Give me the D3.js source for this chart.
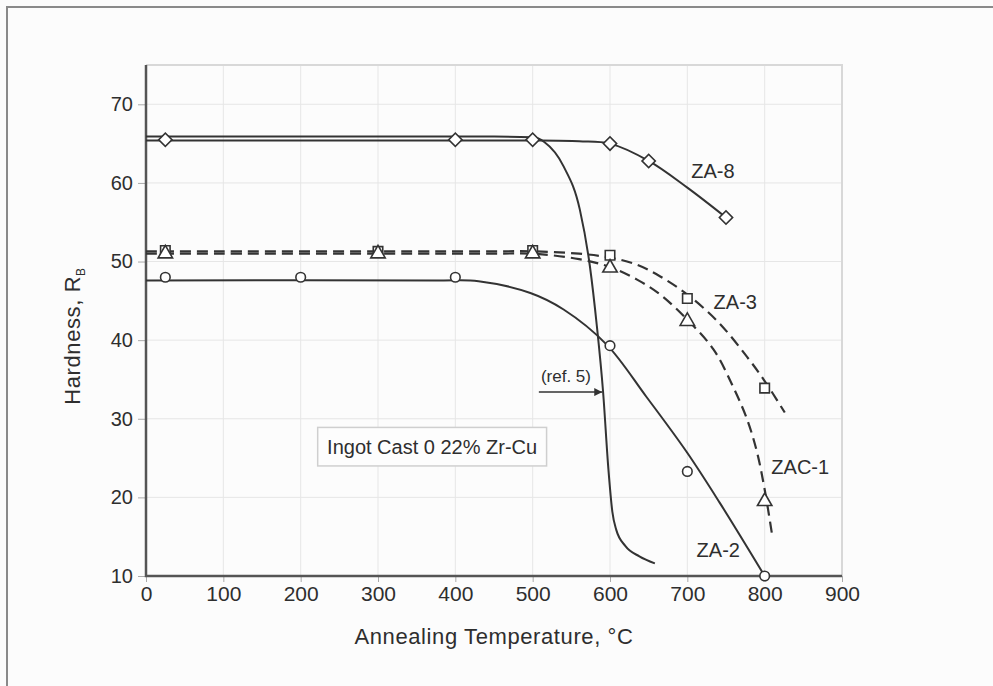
<!DOCTYPE html>
<html>
<head>
<meta charset="utf-8">
<script src="https://cdn.jsdelivr.net/npm/d3@7/dist/d3.min.js"></script>
<style>
  html, body { margin: 0; padding: 0; background: #fcfcfc; }
  svg { display: block; font-family: "Liberation Sans", Arial, sans-serif; }
</style>
</head>
<body>
<svg id="chart" width="993" height="686"></svg>
<script>
// Axis ticks
const tempTicks = [0, 100, 200, 300, 400, 500, 600, 700, 800, 900];
const hardTicks = [10, 20, 30, 40, 50, 60, 70];

// Measured points (temperature °C, hardness R_B)
const za8Points  = [[25, 65.5], [400, 65.5], [500, 65.5], [600, 65.0], [650, 62.8], [750, 55.6]];
const za3Points  = [[25, 51.4], [300, 51.3], [500, 51.4], [600, 50.8], [700, 45.3], [800, 33.9]];
const zac1Points = [[25, 51.0], [300, 51.0], [500, 51.0], [600, 49.2], [700, 42.4], [800, 19.5]];
const za2Points  = [[25, 48.0], [200, 48.0], [400, 48.0], [600, 39.3], [700, 23.3], [800, 10.0]];

// Fitted softening curves
const za8Curve  = [[0, 65.4], [450, 65.4], [500, 65.4], [560, 65.3], [600, 65.0], [650, 62.8], [700, 59.4], [750, 55.6]];
const ref5Curve = [[0, 65.9], [450, 65.9], [500, 65.8], [515, 65.2], [540, 62.1], [561, 56.6], [574, 49.4], [583, 41.8],
                   [591, 33.5], [598, 23.5], [603, 18.2], [608, 15.9], [620, 13.8], [638, 12.5], [658, 11.6]];
const za3Curve  = [[0, 51.3], [450, 51.3], [500, 51.3], [560, 51.0], [600, 50.5], [635, 49.6], [665, 48.1], [700, 45.8],
                   [740, 42.3], [777, 37.9], [800, 34.8], [826, 30.8]];
const zac1Curve = [[0, 51.0], [450, 51.0], [500, 51.0], [560, 50.3], [600, 49.3], [635, 47.7], [665, 45.8], [700, 42.6],
                   [734, 38.8], [759, 34.1], [777, 30.0], [790, 25.8], [800, 21.0], [810, 15.0]];
const za2Curve  = [[0, 47.6], [380, 47.6], [430, 47.5], [497, 46.0], [540, 43.9], [596, 39.4], [647, 32.8], [699, 25.8],
                   [742, 19.3], [800, 10.0]];

// Curve labels (anchor in data units)
const curveLabels = [
  { text: "ZA-8",  t: 733, h: 61.5 },
  { text: "ZA-3",  t: 762, h: 44.9 },
  { text: "ZAC-1", t: 846, h: 23.9 },
  { text: "ZA-2",  t: 740, h: 13.3 }
];
const refNote = { text: "(ref. 5)", t: 543, h: 35.4, arrowFrom: 508, arrowTo: 590, arrowH: 33.4 };
const noteBox = { text: "Ingot Cast 0 22% Zr-Cu", t0: 222, t1: 518, h0: 28.9, h1: 24.0 };

const ink = "#333";
const textInk = "#2e2e2e";
const svg = d3.select("#chart");

const x = d3.scaleLinear().domain([0, 900]).range([146, 842]);
const y = d3.scaleLinear().domain([10, 75]).range([576, 65]);

// Outer frame
svg.append("rect").attr("x", 7).attr("y", 7).attr("width", 1000).attr("height", 700)
  .attr("fill", "#fcfcfc").attr("stroke", "#8a8a8a").attr("stroke-width", 2);

// Grid
const grid = svg.append("g");
grid.selectAll("line.v").data(tempTicks.slice(1)).join("line")
  .attr("x1", d => x(d)).attr("x2", d => x(d)).attr("y1", y(75)).attr("y2", y(10))
  .attr("stroke", "#e6e6e6").attr("stroke-width", 1);
grid.selectAll("line.h").data(hardTicks.slice(1)).join("line")
  .attr("x1", x(0)).attr("x2", x(900)).attr("y1", d => y(d)).attr("y2", d => y(d))
  .attr("stroke", "#e6e6e6").attr("stroke-width", 1);
// Top and right frame of the plot area
svg.append("path")
  .attr("d", `M${x(0)},${y(75)}H${x(900)}V${y(10)}`)
  .attr("fill", "none").attr("stroke", "#d8d8d8").attr("stroke-width", 2);

// Axes
const xAxis = d3.axisBottom(x).tickValues(tempTicks).tickSize(6).tickPadding(4).tickFormat(d3.format("d"));
const yAxis = d3.axisLeft(y).tickValues(hardTicks).tickSize(8).tickPadding(5).tickFormat(d3.format("d"));

const gx = svg.append("g").attr("transform", `translate(0,${y(10)})`).call(xAxis);
const gy = svg.append("g").attr("transform", `translate(${x(0)},0)`).call(yAxis);
[gx, gy].forEach(g => {
  g.select(".domain").remove();
  g.selectAll(".tick line").attr("stroke", "#aaa").attr("stroke-width", 1);
  g.selectAll(".tick text").attr("fill", textInk)
    .attr("font-family", "Liberation Sans, Arial, sans-serif");
});
gx.selectAll(".tick text").attr("font-size", 21);
gy.selectAll(".tick text").attr("font-size", 20);
svg.append("path")
  .attr("d", `M${x(0)},${y(75)}V${y(10)}H${x(900)}`)
  .attr("fill", "none").attr("stroke", "#555").attr("stroke-width", 2.5);

// Axis titles
svg.append("text").attr("x", (x(0) + x(900)) / 2).attr("y", 644)
  .attr("text-anchor", "middle").attr("font-size", 22).attr("letter-spacing", 0.6).attr("fill", textInk)
  .text("Annealing Temperature, °C");
const yt = svg.append("text").attr("transform", "translate(80,336) rotate(-90)")
  .attr("text-anchor", "middle").attr("font-size", 22).attr("letter-spacing", 0.6).attr("fill", textInk);
yt.append("tspan").text("Hardness, R");
yt.append("tspan").attr("font-size", 12).attr("dy", 5).text("B");

// Note box
svg.append("rect")
  .attr("x", x(noteBox.t0)).attr("y", y(noteBox.h0))
  .attr("width", x(noteBox.t1) - x(noteBox.t0)).attr("height", y(noteBox.h1) - y(noteBox.h0))
  .attr("fill", "#fdfdfd").attr("stroke", "#cfcfcf").attr("stroke-width", 1.5);
svg.append("text")
  .attr("x", (x(noteBox.t0) + x(noteBox.t1)) / 2).attr("y", (y(noteBox.h0) + y(noteBox.h1)) / 2)
  .attr("dy", "0.35em").attr("text-anchor", "middle").attr("font-size", 20).attr("fill", textInk)
  .text(noteBox.text);

// Curves
const smooth = d3.line().x(d => x(d[0])).y(d => y(d[1])).curve(d3.curveCatmullRom.alpha(0.5));
const steep = d3.line().x(d => x(d[0])).y(d => y(d[1])).curve(d3.curveMonotoneX);
const curves = svg.append("g").attr("fill", "none").attr("stroke", ink);
curves.append("path").attr("d", steep(ref5Curve)).attr("stroke-width", 2);
curves.append("path").attr("d", smooth(za8Curve)).attr("stroke-width", 2);
curves.append("path").attr("d", smooth(za2Curve)).attr("stroke-width", 2);
curves.append("path").attr("d", smooth(za3Curve)).attr("stroke-width", 2.2).attr("stroke-dasharray", "11,6");
curves.append("path").attr("d", smooth(zac1Curve)).attr("stroke-width", 2.2).attr("stroke-dasharray", "11,6");

// Markers
const marks = svg.append("g").attr("fill", "#fff").attr("stroke", ink).attr("stroke-width", 1.6);
marks.selectAll("path.za8").data(za8Points).join("path")
  .attr("d", d3.symbol(d3.symbolSquare, 88))
  .attr("transform", d => `translate(${x(d[0])},${y(d[1])}) rotate(45)`);
marks.selectAll("path.za3").data(za3Points).join("path")
  .attr("d", d3.symbol(d3.symbolSquare, 90))
  .attr("transform", d => `translate(${x(d[0])},${y(d[1])})`);
marks.selectAll("path.zac1").data(zac1Points).join("path")
  .attr("d", d3.symbol(d3.symbolTriangle, 90))
  .attr("transform", d => `translate(${x(d[0])},${y(d[1])})`);
marks.selectAll("circle.za2").data(za2Points).join("circle")
  .attr("cx", d => x(d[0])).attr("cy", d => y(d[1])).attr("r", 4.8);

// Curve labels
svg.append("g").selectAll("text").data(curveLabels).join("text")
  .attr("x", d => x(d.t)).attr("y", d => y(d.h)).attr("dy", "0.35em")
  .attr("text-anchor", "middle").attr("font-size", 20).attr("fill", textInk)
  .text(d => d.text);

// Reference note with arrow
svg.append("text").attr("x", x(refNote.t)).attr("y", y(refNote.h)).attr("dy", "0.35em")
  .attr("text-anchor", "middle").attr("font-size", 17).attr("fill", textInk).text(refNote.text);
svg.append("defs").append("marker").attr("id", "arrowhead")
  .attr("viewBox", "0 0 10 10").attr("refX", 10).attr("refY", 5)
  .attr("markerWidth", 8).attr("markerHeight", 8).attr("markerUnits", "userSpaceOnUse")
  .attr("orient", "auto")
  .append("path").attr("d", "M0,0L10,5L0,10Z").attr("fill", ink);
svg.append("line")
  .attr("x1", x(refNote.arrowFrom)).attr("x2", x(refNote.arrowTo))
  .attr("y1", y(refNote.arrowH)).attr("y2", y(refNote.arrowH))
  .attr("stroke", ink).attr("stroke-width", 1.5).attr("marker-end", "url(#arrowhead)");
</script>
</body>
</html>
